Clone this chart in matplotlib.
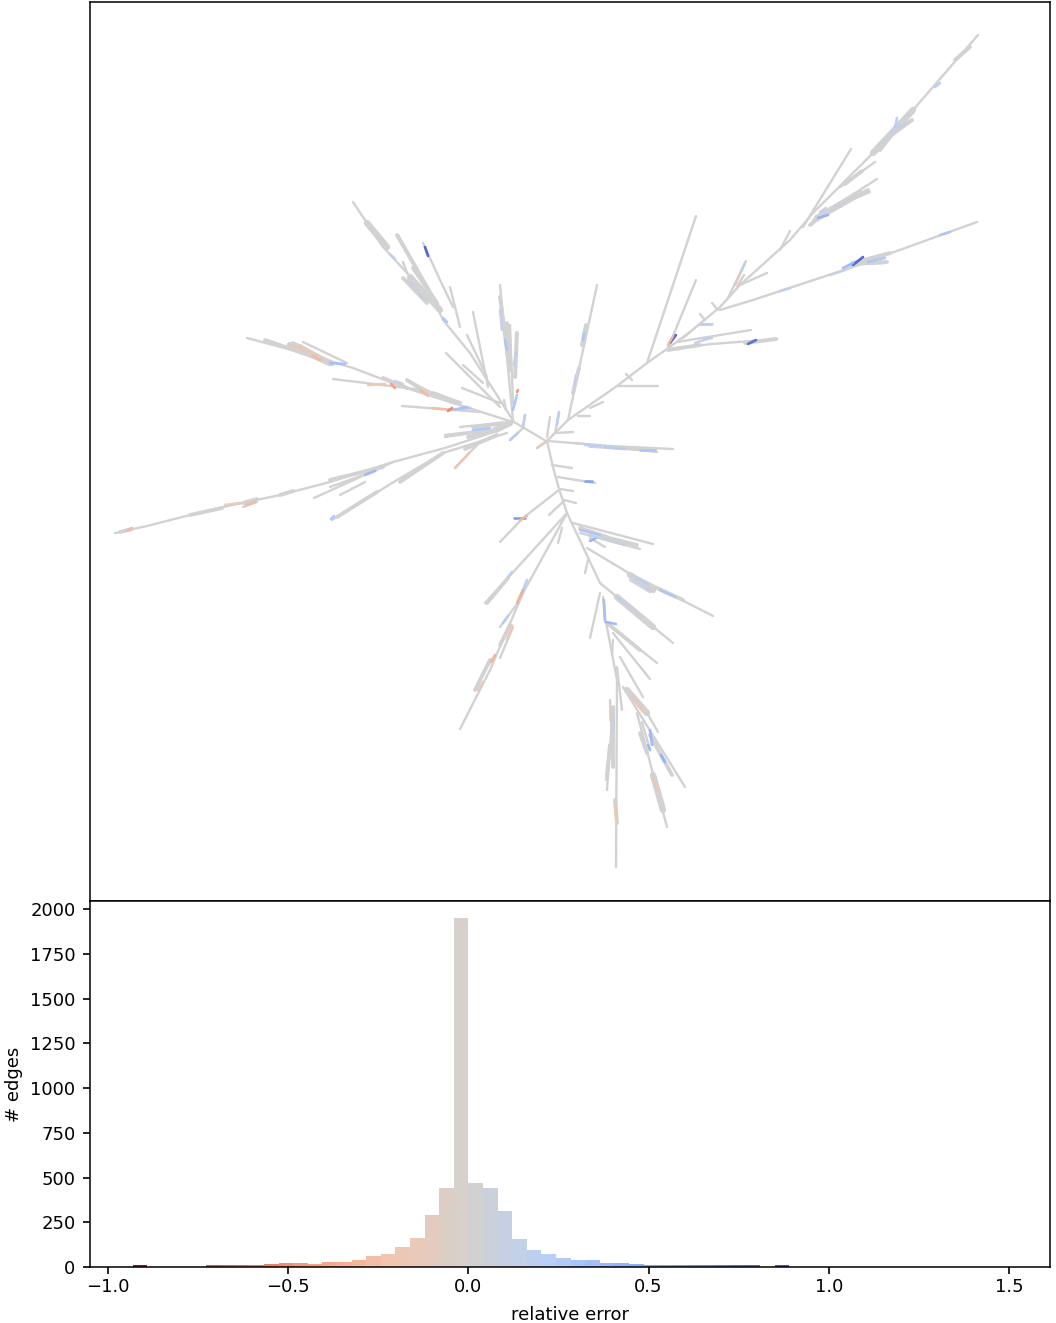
import numpy as np
import matplotlib
matplotlib.use("Agg")
import matplotlib.pyplot as plt
from matplotlib.collections import LineCollection
from matplotlib.colors import LinearSegmentedColormap, Normalize

bin_index = list(range(-23, 22))
bin_width = 0.0405
edge_counts = [12, 0, 0, 0, 0, 11, 11, 11, 12, 16, 22, 22, 16, 30, 30, 37, 60, 74, 112, 164, 290, 439, 1950,
               469, 439, 312, 156, 97, 74, 52, 37, 37, 22, 20, 15, 12, 11, 11, 11, 11, 11, 11, 11, 0, 12]
y_ticks = [0, 250, 500, 750, 1000, 1250, 1500, 1750, 2000]
x_ticks = [-1.0, -0.5, 0.0, 0.5, 1.0, 1.5]

# Tree edges (layout coordinates), each a polyline
upper_right = [
    [(547,441),(568,420),(617,386),(647,363),(667,349),(690,332),(720,307),(740,285),(790,240),(813,213),(873,153),(913,110),(978,35)],
    [(647,363),(696,216)], [(668,348),(696,280)], [(677,342),(751,330)], [(668,349),(712,344),(777,339)],
    [(720,310),(753,300),(850,268),(977,222)], [(698,325),(712,324)], [(728,298),(746,261)], [(737,287),(744,275)],
    [(740,285),(767,273)], [(780,250),(790,231)], [(803,227),(851,149)], [(813,220),(877,179)], [(820,213),(870,192)],
    [(840,187),(875,162)], [(843,270),(888,254)], [(850,265),(885,263)], [(617,386),(658,386)], [(590,408),(603,402)],
    [(578,416),(590,416)], [(568,420),(597,285)], [(547,437),(550,417)], [(555,433),(559,412)], [(555,433),(573,432)],
    [(547,441),(610,446),(673,449)], [(575,443),(657,452)], [(537,448),(547,441)], [(626,374),(632,380)],
    [(690,332),(683,338)], [(705,320),(700,314)], [(718,310),(712,303)],
]
down_tree = [
    [(547,441),(553,467),(559,489),(567,513),(600,583)],
    [(552,465),(572,468)], [(558,477),(595,483)], [(560,489),(573,491)], [(564,500),(576,503)],
    [(559,490),(523,518),(500,542)], [(549,515),(565,500)], [(567,513),(485,603)], [(567,513),(523,593),(490,670),(460,729)],
    [(500,627),(520,600)], [(500,658),(513,627)], [(558,543),(562,528)], [(573,523),(653,544)], [(580,533),(640,549)],
    [(590,538),(605,547)], [(587,548),(627,572),(713,616)], [(588,560),(585,573)], [(600,583),(673,643)], [(600,593),(590,638)],
    [(603,597),(605,622)], [(607,623),(657,663)], [(613,633),(650,679)], [(606,622),(617,680),(616,867)],
    [(613,640),(612,655)], [(620,657),(643,697)], [(617,667),(622,710)], [(623,687),(685,787)], [(637,713),(667,827)],
    [(647,713),(658,732)], [(613,707),(607,790)], [(642,722),(650,750)], [(612,735),(606,780)],
    [(650,735),(672,775)], [(610,700),(613,760)],
]
upper_left = [
    [(546,441),(514,422),(470,353),(443,320),(437,307),(407,273),(383,247),(367,223),(353,202)],
    [(437,303),(398,235)], [(453,307),(440,280),(423,243)], [(450,287),(460,327)], [(488,387),(473,312)], [(500,407),(446,353)],
    [(500,403),(462,388)], [(513,420),(500,285)], [(510,325),(513,403)], [(516,333),(516,377)], [(504,400),(506,410)],
    [(525,415),(523,427)], [(510,440),(523,428)], [(407,273),(403,262)], [(425,300),(410,280)],
    [(467,335),(487,377)], [(463,365),(483,383)],
]
left_tree = [
    [(513,422),(453,403),(403,387),(353,368),(303,353),(247,338)],
    [(347,363),(303,342)], [(333,365),(265,340)], [(453,403),(423,390),(333,379)], [(440,397),(407,380)],
    [(480,412),(402,406)], [(513,422),(460,427)], [(493,430),(445,437)], [(500,430),(445,448),(393,462),(330,482),(280,495),(223,507),(190,515),(147,526),(115,533)],
    [(393,462),(314,498)], [(377,470),(330,487)], [(507,433),(443,453),(397,480),(332,520)], [(477,445),(455,468)],
    [(445,435),(487,430)], [(243,507),(257,502)], [(340,495),(365,482)], [(460,403),(433,393)],
]
dense_parts = [
    [(955,60),(970,47)], [(880,150),(905,118)], [(885,140),(912,120)], [(840,206),(868,190)], [(845,184),(862,171)],
    [(853,263),(890,253)], [(867,263),(887,262)], [(745,343),(776,339)], [(668,350),(700,345)], [(810,225),(825,213)],
    [(580,528),(607,537)], [(605,537),(637,545)], [(590,446),(655,450)],
    [(657,588),(683,600)], [(607,623),(640,650)], [(640,733),(647,753)], [(650,735),(672,775)],
    [(610,745),(607,775)], [(613,707),(613,767)], [(615,800),(617,823)], [(500,297),(508,357)], [(507,323),(510,370)],
    [(517,333),(515,377)], [(397,235),(417,270)], [(403,278),(427,303)], [(413,268),(437,303)], [(265,340),(303,353)],
    [(293,343),(320,357)], [(383,378),(407,388)], [(407,380),(427,393)], [(433,393),(460,403)], [(473,427),(503,423)],
    [(468,437),(497,430)], [(190,515),(222,508)], [(120,532),(132,529)], [(243,503),(257,499)], [(280,495),(293,491)],
    [(330,480),(383,467)], [(400,482),(443,453)], [(337,517),(377,492)], [(465,449),(497,435)],
    [(573,393),(579,368)], [(582,345),(586,325)], [(500,645),(510,625)], [(475,690),(490,660)], [(487,603),(508,578)],
]
broad_parts = [
    [(873,153),(913,110)], [(817,218),(860,193)], [(630,575),(653,590)], [(617,597),(653,627)], [(627,690),(647,713)],
    [(653,775),(663,810)], [(367,223),(387,247)], [(410,277),(440,310)], [(290,345),(330,363)], [(495,430),(510,423)],
]
# Edges whose error stands out: (start, end, relative error)
accent_edges = [
    ((853,265),(863,257),0.85), ((748,344),(756,340),0.8), ((670,343),(676,335),0.85), ((425,247),(428,256),0.85),
    ((514,518),(525,518),0.6), ((585,481),(592,481),0.55), ((818,218),(828,215),0.45), ((843,268),(853,263),0.4),
    ((868,262),(885,258),0.3), ((895,128),(897,118),0.25), ((935,87),(940,83),0.25), ((940,235),(950,232),0.3),
    ((600,535),(580,530),0.3), ((590,541),(596,538),0.45), ((604,600),(605,620),0.35), ((606,622),(616,624),0.4),
    ((650,730),(652,745),0.4), ((661,755),(665,762),0.45), ((636,578),(648,584),0.2), ((660,590),(675,597),0.3),
    ((648,745),(650,750),0.4), ((527,580),(520,597),0.25), ((503,623),(508,616),0.25), ((508,577),(512,572),0.2),
    ((617,597),(622,601),0.2), ((365,475),(375,471),0.4), ((331,519),(334,516),0.3), ((452,410),(467,407),0.35),
    ((473,430),(490,428),0.3), ((507,350),(505,340),0.3), ((517,395),(513,410),0.3), ((516,352),(514,365),0.2),
    ((584,333),(583,340),0.3), ((576,375),(574,387),0.15), ((557,425),(559,412),0.2), ((525,415),(523,427),0.22),
    ((510,440),(518,433),0.25), ((390,254),(395,259),0.2), ((443,318),(447,322),0.3), ((605,447),(625,449),0.25),
    ((640,450),(655,450),0.3), ((585,445),(600,446),0.2), ((704,339),(712,338),0.2), ((700,324),(712,324),0.2),
    ((695,343),(710,338),0.15), ((745,263),(741,272),0.2), ((820,212),(826,208),0.15), ((780,291),(790,288),0.15),
    ((907,122),(893,133),0.15), ((330,363),(345,364),0.35), ((395,381),(403,384),0.15), ((470,408),(460,409),0.3),
    ((432,408),(452,410),-0.28), ((448,411),(452,408),-0.55), ((391,384),(395,388),-0.45), ((368,385),(385,384),-0.2),
    ((420,390),(428,396),-0.3), ((312,355),(320,360),-0.3), ((517,392),(518,390),-0.5), ((455,468),(470,452),-0.22),
    ((495,655),(491,662),-0.35), ((512,625),(507,640),-0.22), ((523,590),(517,603),-0.35), ((632,695),(643,712),-0.18),
    ((615,805),(617,822),-0.2), ((654,780),(658,790),-0.22), ((246,505),(255,502),-0.3), ((225,505),(240,503),-0.18),
    ((127,531),(132,528),-0.3), ((483,682),(478,690),-0.15), ((537,448),(547,441),-0.12), ((735,285),(741,272),-0.12),
    ((520,520),(527,516),-0.3), ((290,345),(310,352),-0.15), ((610,708),(610,720),-0.12),
    ((668,345),(673,336),-0.28), ((613,715),(613,730),0.12), ((845,270),(830,275),0.1), ((630,580),(650,592),0.1),
    ((620,600),(640,615),0.08), ((408,280),(425,300),0.08), ((500,310),(502,330),0.15), ((372,228),(380,238),0.05),
    ((300,345),(325,360),-0.1), ((590,535),(625,545),0.12), ((880,145),(900,125),0.06), ((835,208),(855,196),0.07),
]

coolwarm = matplotlib.colormaps["coolwarm_r"]
stops = [coolwarm(p) for p in (0.0, 0.125, 0.25, 0.375)] + ["#d4d1ce"] + [coolwarm(p) for p in (0.625, 0.75, 0.875, 1.0)]
cmap = LinearSegmentedColormap.from_list("err", stops)
norm = Normalize(-0.92, 0.92)

plt.rcParams["font.size"] = 13
plt.rcParams["axes.linewidth"] = 1.1
fig = plt.figure(figsize=(10.56, 13.23), dpi=100)
W, H = 1056, 1323
ax_tree = fig.add_axes([90/W, 1-901/H, 960/W, 899/H])
ax_hist = fig.add_axes([90/W, 1-1267/H, 960/W, 366/H])

line_grey = "#d2d2d2"
thin = upper_right + down_tree + upper_left + left_tree
ax_tree.add_collection(LineCollection(thin, colors=line_grey, linewidths=1.7, capstyle="round"))
ax_tree.add_collection(LineCollection(dense_parts, colors=line_grey, linewidths=2.8, capstyle="round"))
ax_tree.add_collection(LineCollection(broad_parts, colors=line_grey, linewidths=4.6, capstyle="round"))
ax_tree.add_collection(LineCollection([[a, b] for a, b, _ in accent_edges],
                                      colors=[cmap(norm(e)) for _, _, e in accent_edges],
                                      linewidths=1.9, capstyle="round", alpha=0.9))
ax_tree.set_xlim(90, 1050)
ax_tree.set_ylim(901, 2)
ax_tree.set_xticks([])
ax_tree.set_yticks([])

lefts = np.array(bin_index) * bin_width
ax_hist.bar(lefts, edge_counts, width=bin_width, align="edge",
            color=[cmap(norm(x + bin_width / 2)) for x in lefts], linewidth=0)
ax_hist.set_xlim(-1.05, 1.614)
ax_hist.set_ylim(0, 2045)
ax_hist.set_xticks(x_ticks)
ax_hist.set_yticks(y_ticks)
ax_hist.tick_params(axis="x", length=5, width=1.2, pad=3)
ax_hist.tick_params(axis="y", length=5, width=1.2, pad=5.5)
ax_hist.set_xlabel("relative error", fontsize=13, labelpad=7)
ax_hist.set_ylabel("# edges", fontsize=13, labelpad=5)

fig.savefig("out.png", dpi=100)
